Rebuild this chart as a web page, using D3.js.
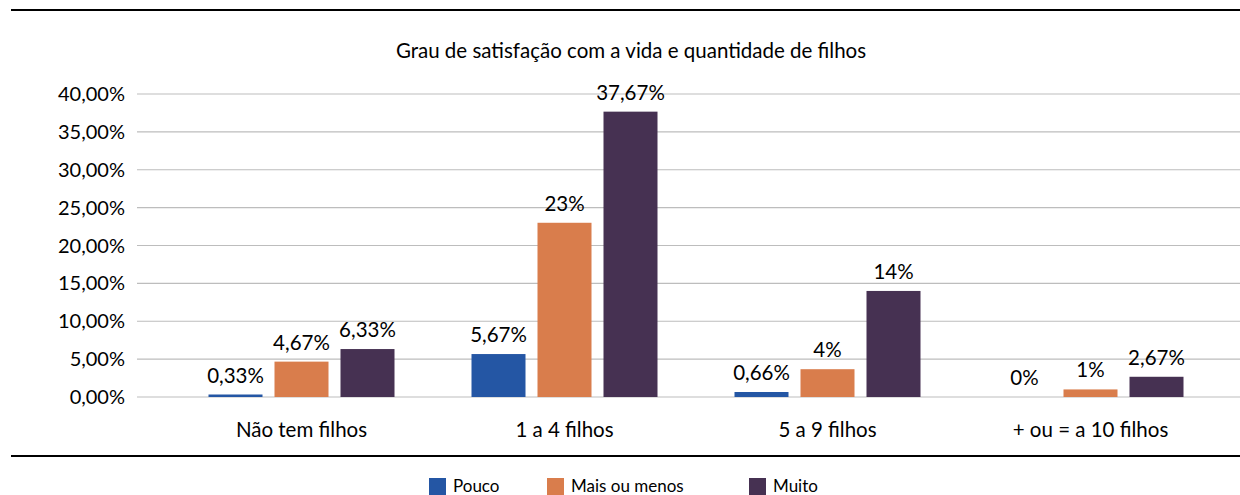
<!DOCTYPE html>
<html>
<head>
<meta charset="utf-8">
<script src="https://cdn.jsdelivr.net/npm/d3@7"></script>
<style>
  body { margin: 0; background: #fff; }
  text { font-family: Lato, "Open Sans", sans-serif; fill: #000; }
</style>
</head>
<body>
<svg id="chart"></svg>
<script>
// Data
const categories = ["Não tem filhos", "1 a 4 filhos", "5 a 9 filhos", "+ ou = a 10 filhos"];
const seriesNames = ["Pouco", "Mais ou menos", "Muito"];
const pouco = [0.33, 5.67, 0.66, 0];
const maisOuMenos = [4.67, 23, 3.67, 1];
const muito = [6.33, 37.67, 14, 2.67];
const pocoLabels = ["0,33%", "5,67%", "0,66%", "0%"];
const maisLabels = ["4,67%", "23%", "4%", "1%"];
const muitoLabels = ["6,33%", "37,67%", "14%", "2,67%"];
const yTicks = [0, 5, 10, 15, 20, 25, 30, 35, 40];
const colors = ["#2456a4", "#d97d4c", "#463152"];

const width = 1240, height = 495;
const svg = d3.select("#chart").attr("width", width).attr("height", height);

const seriesValues = [pouco, maisOuMenos, muito];
const seriesLabels = [pocoLabels, maisLabels, muitoLabels];

// Scales
const x0 = d3.scaleBand().domain(categories).range([170, 1222]);
const x1 = d3.scaleBand().domain(seriesNames).range([0, 186]).paddingInner(12 / 66);
const y = d3.scaleLinear().domain([0, 40]).range([397, 94]);

// Top and bottom rules
svg.append("line").attr("x1", 11).attr("x2", width).attr("y1", 10).attr("y2", 10)
  .attr("stroke", "#000").attr("stroke-width", 2);
svg.append("line").attr("x1", 11).attr("x2", width).attr("y1", 456).attr("y2", 456)
  .attr("stroke", "#000").attr("stroke-width", 2);

// Title
svg.append("text").attr("x", 631).attr("y", 58).attr("text-anchor", "middle")
  .style("font-size", "20.5px").text("Grau de satisfação com a vida e quantidade de filhos");

// Gridlines and y labels
const grid = svg.append("g");
grid.selectAll("line").data(yTicks).enter().append("line")
  .attr("x1", 137).attr("x2", width)
  .attr("y1", d => y(d)).attr("y2", d => y(d))
  .attr("stroke", "#bdbdbd").attr("stroke-width", 1.2);
grid.selectAll("text").data(yTicks).enter().append("text")
  .attr("x", 125).attr("y", d => y(d) + 7)
  .attr("text-anchor", "end").style("font-size", "20px")
  .text(d => d3.format(".2f")(d).replace(".", ",") + "%");

// Bars
const groups = svg.selectAll(".grp").data(categories).enter().append("g")
  .attr("class", "grp")
  .attr("transform", c => `translate(${x0(c) + (x0.bandwidth() - 186) / 2},0)`);

seriesNames.forEach((s, si) => {
  groups.append("rect")
    .attr("x", x1(s))
    .attr("width", x1.bandwidth())
    .attr("y", (c, i) => y(seriesValues[si][i]))
    .attr("height", (c, i) => y(0) - y(seriesValues[si][i]))
    .attr("fill", colors[si]);
  groups.append("text")
    .attr("x", x1(s) + x1.bandwidth() / 2)
    .attr("y", (c, i) => y(seriesValues[si][i]) - 12)
    .attr("text-anchor", "middle").style("font-size", "20.5px")
    .text((c, i) => seriesLabels[si][i]);
});

// Category labels
svg.selectAll(".cat").data(categories).enter().append("text")
  .attr("class", "cat")
  .attr("x", c => x0(c) + x0.bandwidth() / 2).attr("y", 437)
  .attr("text-anchor", "middle").style("font-size", "20.5px")
  .text(c => c);

// Legend
const legendX = [429, 547, 749];
const legend = svg.selectAll(".leg").data(seriesNames).enter().append("g")
  .attr("class", "leg")
  .attr("transform", (s, i) => `translate(${legendX[i]},478)`);
legend.append("rect").attr("width", 17).attr("height", 17).attr("fill", (s, i) => colors[i]);
legend.append("text").attr("x", 24).attr("y", 14).style("font-size", "17px").text(s => s);
</script>
</body>
</html>
